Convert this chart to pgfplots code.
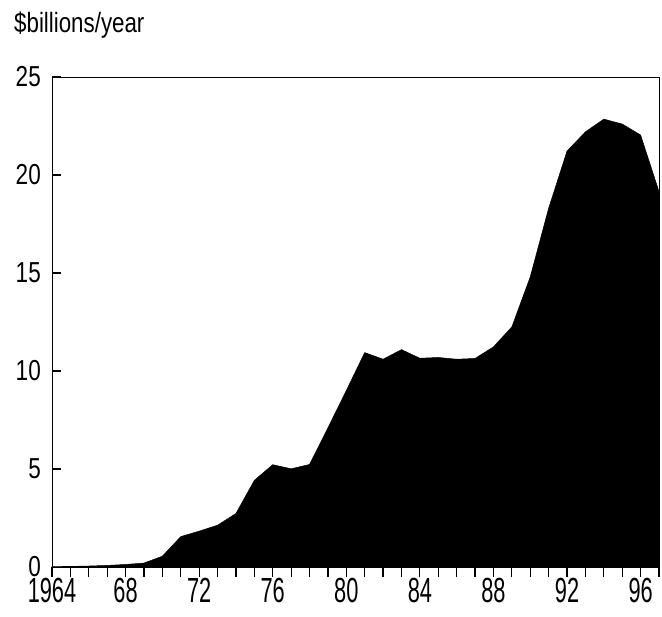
\documentclass[border=0pt]{standalone}
\usepackage{fontspec}
\setmainfont{Liberation Sans}[FakeStretch=0.8]
\newfontfamily\yfont{Liberation Sans}[FakeStretch=0.78]
\newfontfamily\xfont{Liberation Sans}[FakeStretch=0.625]
\usepackage{pgfplots}
\pgfplotsset{compat=1.18}
\begin{document}
\begin{tikzpicture}
\begin{axis}[
  scale only axis,
  width=607bp, height=490bp,
  xmin=1964, xmax=1997, ymin=0, ymax=25,
  axis line style={line width=0.8bp},
  xtick={1964,1968,...,1996},
  xticklabels={1964,68,72,76,80,84,88,92,96},
  ytick={0,5,...,25},
  major tick length=0pt,
  xtick pos=bottom,
  /pgf/number format/assume math mode=true,
  xticklabel style={font=\fontsize{35}{37}\selectfont\xfont, inner sep=0pt, anchor=north, yshift=-11bp},
  yticklabel style={font=\fontsize{29}{32}\selectfont\yfont, inner sep=0pt, xshift=-11bp},
]
\addplot[fill=black, draw=black, line width=0.5bp] coordinates {
(1964,0.02) (1965,0.03) (1966,0.05) (1967,0.08) (1968,0.13) (1969,0.2)
(1970,0.55) (1971,1.55) (1972,1.83) (1973,2.13) (1974,2.73) (1975,4.42)
(1976,5.22) (1977,5.01) (1978,5.23) (1979,7.1) (1980,9.0) (1981,10.94)
(1982,10.6) (1983,11.09) (1984,10.65) (1985,10.69) (1986,10.6) (1987,10.64)
(1988,11.23) (1989,12.25) (1990,14.8) (1991,18.3) (1992,21.22) (1993,22.2)
(1994,22.85) (1995,22.6) (1996,22.04) (1997,19.15)
} \closedcycle;
\end{axis}
% tick marks, placed along the axis frame
\foreach \i in {0,...,33}
  \draw[line width=1.2bp, black] ([xshift={\i*18.3939bp}]current axis.south west) -- ++(0,-10bp);
\foreach \j in {1,...,5}
  \draw[line width=1.2bp, black] ([yshift={\j*98bp}]current axis.south west) -- ++(9bp,0);
\node[anchor=base west, inner sep=0pt, font=\fontsize{28}{30}\selectfont]
  at ([shift={(-38bp,44bp)}]current axis.north west) {\$billions/year};
\path ([shift={(-52bp,-50bp)}]current axis.south west) rectangle ([shift={(3bp,77bp)}]current axis.north east);
\end{tikzpicture}
\end{document}
